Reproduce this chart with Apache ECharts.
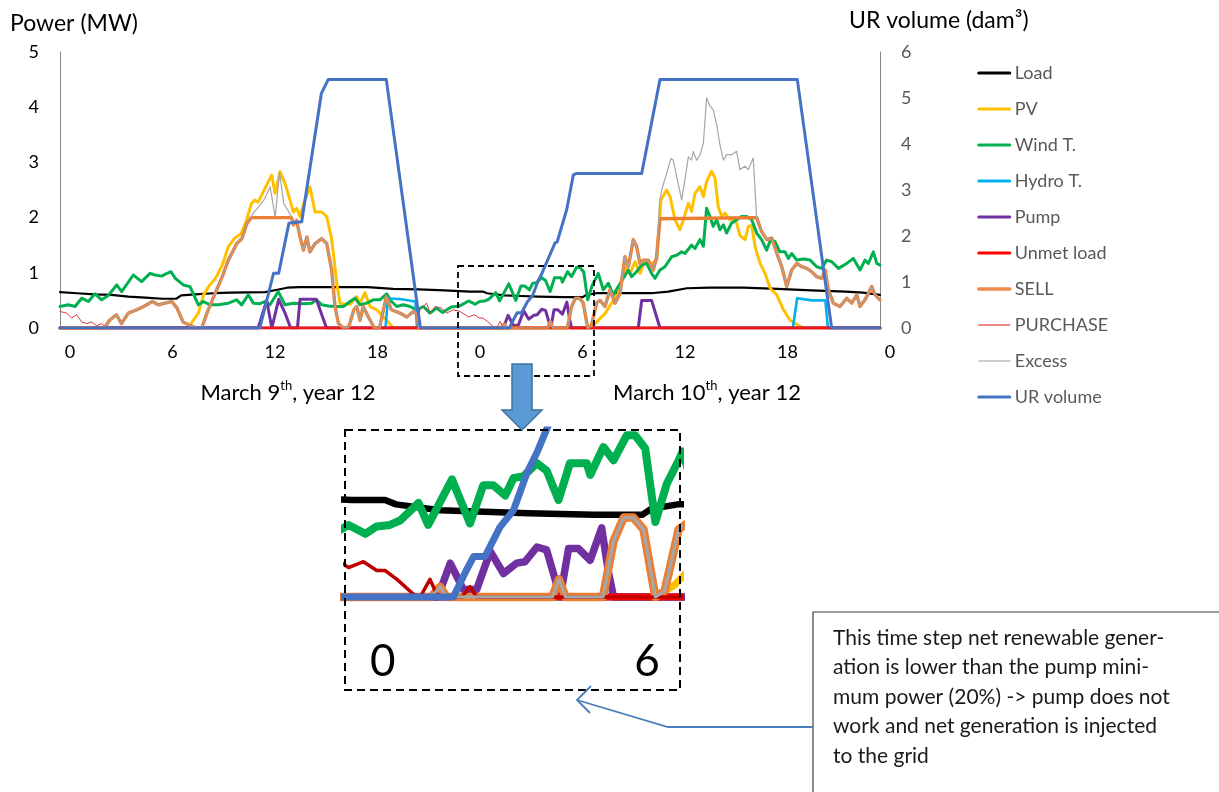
<!DOCTYPE html>
<html>
<head>
<meta charset="utf-8">
<script src="https://cdn.jsdelivr.net/npm/echarts@6/dist/echarts.min.js"></script>
<style>
  html, body { margin: 0; padding: 0; background: #ffffff; }
  #chart { width: 1219px; height: 792px; }
</style>
</head>
<body>
<div id="chart"></div>
<script>
// Two-day dispatch of the hybrid system, hours counted from 0:00 on March 9th.
// Each series is a list of [hour, value] points; power in MW, UR volume in dam³.
const seriesNames = ['Load', 'PV', 'Wind T.', 'Hydro T.', 'Pump', 'Unmet load', 'SELL', 'PURCHASE', 'Excess', 'UR volume'];
const xTickLabels = ['0', '6', '12', '18', '0', '6', '12', '18', '0'];
const insetTickHours = [24, 30];
const insetTickLabels = ['0', '6'];

const load = [[0,0.65],[1,0.63],[2,0.61],[3,0.6],[4,0.57],[5,0.55],[6,0.53],[6.8,0.53],[7.1,0.59],[7.9,0.61],[9,0.63],[10,0.64],[12,0.65],[12.5,0.68],[13.3,0.73],[14,0.74],[16,0.74],[18,0.74],[19.5,0.71],[21,0.7],[22.5,0.68],[24,0.66],[24.75,0.66],[25,0.63],[26,0.59],[27,0.58],[28,0.57],[29.5,0.56],[30.6,0.56],[30.8,0.6],[31.4,0.63],[32.7,0.63],[34.6,0.63],[35.6,0.66],[36.7,0.72],[38,0.73],[40,0.73],[42,0.71],[44,0.68],[46,0.66],[47,0.64],[48,0.6]];

const pv = [[0,0],[7.4,0],[7.6,0.05],[8.1,0.27],[8.4,0.6],[8.7,0.75],[9.1,0.9],[9.5,1.14],[9.85,1.47],[10.2,1.62],[10.6,1.71],[10.9,1.93],[11.2,2.25],[11.4,2.32],[11.6,2.28],[12.0,2.53],[12.39,2.77],[12.59,2.44],[12.88,2.83],[13.17,2.62],[13.46,2.32],[13.66,2.1],[13.85,2.17],[14.05,2.02],[14.34,2.32],[14.63,2.56],[14.93,2.1],[15.32,2.1],[15.61,2.02],[15.9,1.62],[16.2,0.81],[16.39,0.45],[16.59,0.43],[16.98,0.43],[17.37,0.57],[17.56,0.45],[17.85,0.64],[18.15,0.39],[18.54,0.33],[19.12,0.14],[19.51,0],[30.9,0],[31.32,0.08],[31.9,0.26],[32.29,0.45],[32.68,0.63],[33.07,1.1],[33.36,0.99],[33.66,1.2],[33.95,0.99],[34.24,1.23],[34.53,1.14],[34.93,1.23],[35.18,2.32],[35.51,2.5],[35.71,2.38],[36.0,1.96],[36.29,1.78],[36.49,1.96],[36.78,2.26],[36.97,2.11],[37.17,2.44],[37.46,2.56],[37.66,2.38],[37.85,2.65],[38.14,2.84],[38.34,2.72],[38.53,2.2],[38.73,2.02],[38.92,2.08],[39.22,1.96],[39.41,1.99],[39.61,1.9],[39.8,1.68],[40.1,1.6],[40.29,1.84],[40.49,1.86],[40.69,1.47],[40.98,1.17],[41.27,0.99],[41.57,0.72],[41.96,0.6],[42.35,0.33],[42.74,0.14],[43.22,0.05],[43.52,0],[48,0]];

const wind = [[0,0.39],[0.49,0.42],[0.88,0.39],[1.27,0.54],[1.66,0.48],[2.05,0.62],[2.44,0.51],[2.83,0.59],[3.32,0.78],[3.61,0.66],[4.29,0.96],[4.78,0.84],[5.27,0.99],[5.56,0.96],[5.95,0.94],[6.2,0.98],[6.5,1.02],[6.75,0.9],[7.22,0.78],[7.61,0.75],[8.1,0.42],[8.39,0.48],[8.78,0.42],[9.27,0.42],[9.85,0.45],[10.34,0.51],[10.63,0.42],[11.02,0.6],[11.32,0.45],[11.7,0.44],[12.0,0.48],[12.29,0.42],[12.78,0.66],[13.17,0.42],[13.66,0.45],[14.24,0.44],[14.73,0.45],[15.02,0.51],[15.32,0.42],[15.71,0.4],[16.2,0.39],[16.59,0.39],[16.98,0.48],[17.27,0.54],[17.56,0.42],[17.95,0.45],[18.34,0.51],[18.73,0.51],[19.12,0.62],[19.41,0.48],[19.71,0.39],[20.1,0.42],[20.49,0.39],[20.88,0.33],[21.27,0.39],[21.66,0.27],[22.05,0.36],[22.4,0.28],[22.9,0.38],[23.4,0.4],[23.92,0.49],[24.3,0.43],[24.56,0.48],[24.86,0.49],[25.09,0.52],[25.51,0.64],[25.73,0.49],[26.27,0.8],[26.68,0.5],[26.98,0.76],[27.21,0.76],[27.48,0.69],[27.67,0.81],[27.89,0.82],[28.2,0.91],[28.42,0.86],[28.69,0.66],[28.95,0.91],[29.33,0.91],[29.41,0.83],[29.71,1.02],[29.94,0.93],[30.24,1.1],[30.43,1.1],[30.66,1.01],[30.89,0.51],[31.15,0.77],[31.42,0.93],[31.51,0.99],[31.8,0.69],[32.1,0.81],[32.39,0.6],[32.68,0.75],[32.97,0.9],[33.27,1.05],[33.46,0.93],[33.75,1.02],[34.05,1.14],[34.34,1.17],[34.63,0.99],[34.83,0.9],[35.12,1.05],[35.41,1.11],[35.8,1.29],[36.1,1.32],[36.39,1.38],[36.58,1.35],[36.97,1.5],[37.17,1.44],[37.46,1.6],[37.66,1.48],[37.85,2.17],[38.05,2.02],[38.24,1.84],[38.44,1.96],[38.63,1.78],[38.83,1.87],[39.02,1.72],[39.31,1.9],[39.61,1.96],[39.9,2.02],[40.19,2.02],[40.49,1.96],[40.78,1.72],[41.07,1.6],[41.36,1.41],[41.56,1.57],[41.85,1.57],[42.14,1.38],[42.44,1.38],[42.64,1.26],[42.83,1.35],[43.13,1.23],[43.52,1.25],[43.91,1.23],[44.3,1.11],[44.59,1.08],[44.88,1.23],[45.18,1.2],[45.57,1.08],[46.05,1.17],[46.44,1.26],[46.83,1.05],[47.12,1.23],[47.32,1.17],[47.61,1.38],[47.81,1.17],[48,1.14]];

const hydro = [[0,0],[19.05,0],[19.2,0.54],[20.0,0.52],[20.8,0.48],[20.9,0],[42.9,0],[43.15,0.54],[44.0,0.5],[44.8,0.5],[44.95,0],[48,0]];

const pump = [[0,0],[11.6,0],[12.1,0.5],[12.4,0],[12.8,0.52],[13.2,0.25],[13.5,0],[13.9,0],[14.05,0.52],[15.0,0.52],[15.6,0],[25.95,0],[26.23,0.23],[26.53,0.05],[26.83,0.05],[27.14,0.31],[27.44,0.16],[27.74,0.23],[27.93,0.24],[28.2,0.34],[28.42,0.32],[28.73,0],[28.92,0.33],[29.14,0.33],[29.41,0.25],[29.67,0.47],[29.83,0.16],[29.94,0],[33.85,0],[34.05,0.5],[34.63,0.5],[35.12,0],[48,0]];

const unmetLoad = [[0,0],[48,0]];

const sell = [[0,0],[2.6,0],[2.9,0.14],[3.3,0.24],[3.6,0.08],[4.0,0.27],[4.5,0.33],[4.9,0.39],[5.4,0.48],[5.75,0.42],[6.15,0.45],[6.55,0.48],[6.85,0.36],[7.2,0.11],[7.6,0.05],[8.0,0],[8.3,0],[8.6,0.27],[9.0,0.57],[9.5,0.93],[9.85,1.23],[10.35,1.53],[10.65,1.62],[10.95,1.9],[11.2,2.0],[13.55,2.0],[13.66,1.87],[13.85,1.95],[14.05,1.65],[14.25,1.41],[14.45,1.65],[14.63,1.38],[14.93,1.53],[15.32,1.62],[15.61,1.53],[15.9,1.05],[16.1,0.39],[16.3,0.08],[16.6,0],[16.9,0.02],[17.2,0.33],[17.37,0.39],[17.56,0.14],[17.75,0.39],[18.05,0.2],[18.4,0],[18.7,0],[19.1,0.57],[19.4,0.33],[19.9,0.27],[20.3,0.2],[20.7,0.3],[20.9,0.24],[21.0,0],[25.8,0],[26.0,0.07],[26.15,0],[28.55,0],[28.7,0.12],[28.85,0],[29.7,0],[29.94,0.38],[30.17,0.54],[30.39,0.54],[30.62,0.46],[30.89,0],[31.1,0.04],[31.42,0.46],[31.61,0.5],[31.9,0.39],[32.19,0.69],[32.49,0.45],[32.78,0.63],[33.07,1.29],[33.27,1.11],[33.56,1.6],[33.75,1.48],[33.95,1.17],[34.14,1.23],[34.44,1.23],[34.73,1.05],[34.92,1.29],[35.12,1.98],[35.2,2.0],[40.78,2.0],[41.08,1.74],[41.37,1.6],[41.66,1.63],[41.96,1.35],[42.25,1.11],[42.54,0.75],[42.83,1.05],[43.13,1.17],[43.42,1.11],[43.71,1.08],[44.0,1.02],[44.3,0.93],[44.59,0.9],[44.79,1.05],[44.98,0.69],[45.27,0.45],[45.66,0.39],[46.05,0.54],[46.34,0.45],[46.64,0.6],[46.83,0.39],[47.12,0.51],[47.52,0.75],[47.71,0.6],[48,0.51]];

const purchase = [[0,0.3],[0.39,0.27],[0.68,0.18],[0.98,0.24],[1.27,0.11],[1.56,0.08],[1.85,0.11],[2.15,0.04],[2.44,0.08],[2.73,0],[20.9,0],[21.07,0.33],[21.46,0.45],[21.66,0.27],[21.95,0.39],[22.34,0.36],[22.63,0.27],[23.02,0.33],[23.41,0.3],[23.92,0.2],[24.26,0.24],[24.56,0.18],[24.75,0.18],[25.02,0.12],[25.39,0.02],[25.55,0],[25.77,0.12],[25.92,0.02],[26.1,0],[26.5,0],[26.68,0.07],[26.83,0],[48,0]];

// Excess follows SELL except while sales sit at their cap, when it rises above it.
const excessAboveCapDay1 = [[10.95,1.9],[11.2,2.02],[11.35,2.1],[11.7,2.22],[12.0,2.35],[12.3,2.56],[12.6,2.0],[12.85,2.83],[13.1,2.25],[13.5,2.05],[13.66,1.87]];
const excessAboveCapDay2 = [[34.92,1.29],[35.1,2.3],[35.22,2.5],[35.51,2.8],[35.76,3.07],[35.9,3.04],[36.1,2.74],[36.39,2.32],[36.58,2.68],[36.78,3.1],[36.97,3.04],[37.07,3.2],[37.27,3.04],[37.46,3.13],[37.66,3.35],[37.85,4.17],[38.05,4.02],[38.24,3.95],[38.44,3.68],[38.63,3.32],[38.83,3.04],[39.02,3.14],[39.31,3.14],[39.61,3.2],[39.8,2.87],[40.1,2.93],[40.29,2.87],[40.58,3.08],[40.78,2.0]];

const urVolume = [[0,0],[11.7,0],[12.5,1.19],[12.8,1.19],[13.4,2.28],[14.15,2.31],[15.3,5.1],[15.7,5.4],[19.1,5.4],[21.1,0],[26.3,0],[26.6,0.22],[26.76,0.33],[27.02,0.33],[27.36,0.57],[27.67,0.71],[27.97,1.01],[28.2,1.18],[28.98,1.85],[29.1,1.87],[29.66,2.57],[30.05,3.33],[30.24,3.36],[34.05,3.36],[35.12,5.4],[43.16,5.4],[45.17,0],[48,0]];

// Assemble the Excess series from SELL plus the above-cap stretches.
const capWindows = [excessAboveCapDay1, excessAboveCapDay2];
const excess = sell
  .filter(p => !capWindows.some(w => p[0] >= w[0][0] && p[0] <= w[w.length - 1][0]))
  .concat(...capWindows)
  .sort((a, b) => a[0] - b[0]);

const seriesData = [load, pv, wind, hydro, pump, unmetLoad, sell, purchase, excess, urVolume];
const colors = ['#000000', '#FFC000', '#00B050', '#00B0F0', '#7030A0', '#FF0000', '#ED7D31', '#D9363E', '#A6A6A6', '#4472C4'];
const legendColors = ['#000000', '#FFC000', '#00B050', '#00B0F0', '#7030A0', '#FF0000', '#F08A4B', '#E06666', '#BFBFBF', '#4472C4'];
const mainWidths = [2.2, 3, 3, 2.6, 3, 3, 3.4, 1, 1.2, 3];
const insetWidths = [6.5, 7, 8, 7, 7.5, 7, 8.5, 3.5, 3.2, 7];
const legendWidths = [3, 3, 3, 3, 3, 3, 3.5, 1.5, 1.5, 3];

const FONT = 'Lato, "Open Sans", sans-serif';

function line(i, xAxisIndex, yAxisIndex, width, color) {
  return {
    name: seriesNames[i],
    type: 'line',
    data: seriesData[i],
    xAxisIndex: xAxisIndex,
    yAxisIndex: yAxisIndex,
    symbol: 'none',
    clip: true,
    silent: true,
    animation: false,
    lineStyle: { color: color, width: width, join: 'round', cap: 'round' },
    itemStyle: { color: color }
  };
}

const series = [];
seriesNames.forEach((n, i) => {
  series.push(line(i, 0, i === 9 ? 1 : 0, mainWidths[i], colors[i]));
});
seriesNames.forEach((n, i) => {
  series.push(line(i, 1, i === 9 ? 3 : 2, insetWidths[i], i === 7 ? '#C00000' : colors[i]));
});

const chart = echarts.init(document.getElementById('chart'), null, { renderer: 'canvas' });

const annotationLines = [
  'This time step net renewable gener-',
  'ation is lower than the pump mini-',
  'mum power (20%) -> pump does not',
  'work and net generation is injected',
  'to the grid'
];

const dateRich = {
  a: { fontFamily: FONT, fontSize: 22, lineHeight: 28, fill: '#000000', color: '#000000' },
  s: { fontFamily: FONT, fontSize: 13, lineHeight: 14, verticalAlign: 'top', fill: '#000000', color: '#000000' }
};

const option = {
  backgroundColor: '#ffffff',
  animation: false,
  grid: [
    { left: 60, top: 52, width: 820, height: 276 },
    { left: 345, top: 430, width: 335, height: 260 }
  ],
  xAxis: [
    {
      type: 'value', gridIndex: 0, min: 0, max: 48, interval: 6,
      axisLine: { show: true, lineStyle: { color: '#bfbfbf', width: 1 } },
      axisTick: { show: false },
      splitLine: { show: false },
      axisLabel: {
        formatter: v => xTickLabels[Math.round(v / 6)],
        color: '#000000', fontFamily: FONT, fontSize: 18, margin: 15,
        padding: [0, 0, 0, 20], showMinLabel: true, showMaxLabel: true
      }
    },
    { type: 'value', gridIndex: 1, min: 23.84, max: 31.45, show: false }
  ],
  yAxis: [
    {
      type: 'value', gridIndex: 0, min: 0, max: 5, interval: 1, position: 'left',
      axisLine: { show: true, lineStyle: { color: '#868686', width: 1 } },
      axisTick: { show: false },
      splitLine: { show: false },
      axisLabel: { color: '#000000', fontFamily: FONT, fontSize: 18, margin: 21 }
    },
    {
      type: 'value', gridIndex: 0, min: 0, max: 6, interval: 1, position: 'right',
      axisLine: { show: true, lineStyle: { color: '#868686', width: 1 } },
      axisTick: { show: false },
      splitLine: { show: false },
      axisLabel: { color: '#595959', fontFamily: FONT, fontSize: 18, margin: 21 }
    },
    { type: 'value', gridIndex: 1, min: -0.633, max: 1.136, show: false },
    { type: 'value', gridIndex: 1, min: -0.76, max: 1.364, show: false }
  ],
  legend: {
    orient: 'vertical',
    left: 972,
    top: 59,
    itemWidth: 31,
    itemHeight: 18,
    itemGap: 18,
    selectedMode: false,
    itemStyle: { opacity: 0 },
    textStyle: { color: '#595959', fontFamily: FONT, fontSize: 18, lineHeight: 18 },
    data: seriesNames.map((n, i) => ({ name: n, lineStyle: { width: legendWidths[i], color: legendColors[i] } }))
  },
  series: series,
  graphic: [
    { type: 'text', z: 100, style: { x: 10, y: 24, text: 'Power (MW)', fontFamily: FONT, fontSize: 23, fill: '#000000', verticalAlign: 'middle' } },
    { type: 'text', z: 100, style: { x: 849, y: 21, text: 'UR volume (dam³)', fontFamily: FONT, fontSize: 23, fill: '#000000', verticalAlign: 'middle' } },
    { type: 'text', z: 100, style: { x: 288, y: 393, text: '{a|March 9}{s|th}{a|, year 12}', rich: dateRich, align: 'center', verticalAlign: 'middle' } },
    { type: 'text', z: 100, style: { x: 707, y: 393, text: '{a|March 10}{s|th}{a|, year 12}', rich: dateRich, align: 'center', verticalAlign: 'middle' } },
    // zoom frame on the main chart
    { type: 'rect', z: 100, shape: { x: 458, y: 266, width: 136, height: 110 }, style: { fill: 'none', stroke: '#000000', lineWidth: 1.8, lineDash: [6, 4] } },
    // frame of the enlarged view
    { type: 'rect', z: 100, shape: { x: 345, y: 430, width: 335, height: 260 }, style: { fill: 'none', stroke: '#000000', lineWidth: 2, lineDash: [8, 5] } },
    // block arrow between the two frames
    { type: 'polygon', z: 110, shape: { points: [[512, 364], [532, 364], [532, 410], [542, 410], [522, 430], [502, 410], [512, 410]] }, style: { fill: '#5B9BD5', stroke: '#41719C', lineWidth: 1.5 } },
    // note box
    { type: 'rect', z: 100, shape: { x: 813, y: 612, width: 420, height: 200 }, style: { fill: '#ffffff', stroke: '#404040', lineWidth: 1.2 } },
    { type: 'text', z: 101, style: { x: 833, y: 623, text: annotationLines.join('\n'), fontFamily: FONT, fontSize: 21, lineHeight: 29.5, fill: '#1a1a1a', verticalAlign: 'top' } },
    { type: 'polyline', z: 100, shape: { points: [[813, 727], [668, 727], [577, 700]] }, style: { fill: 'none', stroke: '#4A7EBB', lineWidth: 1.8 } },
    { type: 'polyline', z: 100, shape: { points: [[591, 686], [577, 700], [590, 713]] }, style: { fill: 'none', stroke: '#4A7EBB', lineWidth: 1.8 } }
  ]
};

chart.setOption(option);

// Tick labels of the enlarged view, placed through its own hour axis.
const insetLabels = insetTickHours.map((h, k) => {
  const px = chart.convertToPixel({ xAxisIndex: 1 }, h + 0.7);
  return { type: 'text', id: 'insetTick' + k, z: 100, style: { x: px, y: 662, text: insetTickLabels[k], fontFamily: FONT, fontSize: 44, fill: '#000000', align: 'center', verticalAlign: 'middle' } };
});
chart.setOption({ graphic: option.graphic.concat(insetLabels) });
</script>
</body>
</html>
